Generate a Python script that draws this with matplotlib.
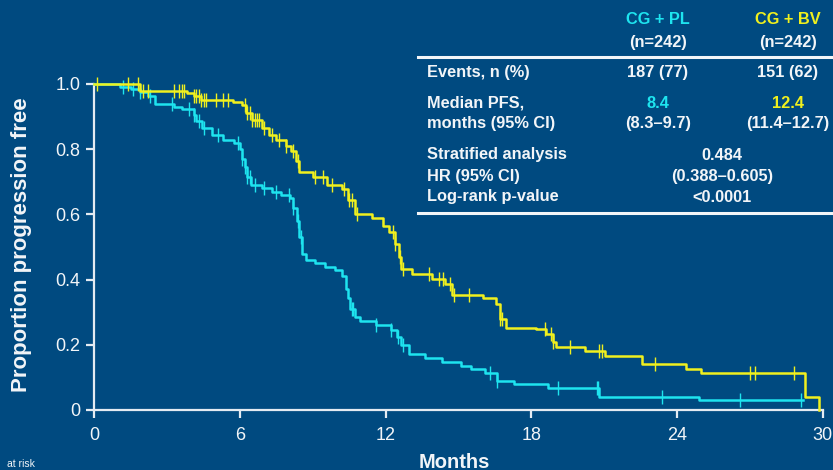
"""Kaplan-Meier style PFS chart, CG + PL vs CG + BV."""
import numpy as np
import matplotlib
matplotlib.use("Agg")
import matplotlib.pyplot as plt
from matplotlib.lines import Line2D

BG = "#004a80"
CYAN = "#1ee4ef"
YELLOW = "#f0f01e"
FG = "#f2f5f8"
AXIS = "#e4ebf2"

# step curves: survival becomes *_surv[i] at *_times[i]
pl_times = [0, 1.05, 1.5, 1.9, 2.2, 2.5, 3.3, 3.6, 4.1, 4.2, 4.45, 4.85, 5.3, 5.75,
            6.0, 6.1, 6.2, 6.3, 6.45, 6.9, 7.3, 7.7, 8.05, 8.2, 8.35, 8.45, 8.55,
            8.7, 9.1, 9.5, 9.9, 10.2, 10.35, 10.45, 10.55, 10.75, 10.95, 11.6,
            12.2, 12.45, 12.65, 12.95, 13.6, 14.3, 15.1, 15.5, 16.1, 16.6, 17.3,
            18.7, 20.8, 24.9, 29.2]
pl_surv = [1.0, 0.992, 0.985, 0.975, 0.962, 0.94, 0.93, 0.922, 0.905, 0.885, 0.865,
           0.845, 0.828, 0.82, 0.80, 0.77, 0.745, 0.715, 0.69, 0.68, 0.67, 0.66,
           0.65, 0.62, 0.58, 0.53, 0.48, 0.46, 0.452, 0.44, 0.43, 0.41, 0.37,
           0.345, 0.31, 0.285, 0.272, 0.262, 0.245, 0.225, 0.20, 0.172, 0.16,
           0.148, 0.135, 0.125, 0.115, 0.09, 0.08, 0.066, 0.04, 0.03, 0.03]
pl_cens = [1.2, 1.6, 1.9, 2.3, 3.2, 3.9, 4.1, 4.3, 4.5, 5.1, 5.9, 6.1, 6.2, 6.3,
           6.4, 6.6, 7.0, 7.5, 8.0, 8.2, 8.4, 8.5, 10.6, 10.65, 11.6, 12.2, 12.5,
           12.7, 16.3, 16.6, 19.1, 20.7, 20.75, 23.4, 26.6, 29.1]

bv_times = [0, 1.9, 3.8, 4.1, 4.4, 5.7, 6.1, 6.25, 6.5, 6.9, 7.2, 7.5, 7.9, 8.1,
            8.3, 8.45, 9.0, 9.6, 10.2, 10.45, 10.75, 11.45, 11.9, 12.15, 12.4,
            12.55, 12.65, 13.1, 13.9, 14.45, 14.75, 16.0, 16.55, 16.7, 16.95,
            18.2, 18.6, 18.9, 19.0, 20.2, 21.05, 22.55, 24.35, 25.0, 29.27, 29.85]
bv_surv = [1.0, 0.98, 0.972, 0.962, 0.952, 0.945, 0.935, 0.91, 0.89, 0.865, 0.845,
           0.828, 0.81, 0.795, 0.765, 0.73, 0.715, 0.69, 0.678, 0.645, 0.602, 0.59,
           0.565, 0.545, 0.51, 0.47, 0.432, 0.418, 0.402, 0.385, 0.352, 0.345,
           0.325, 0.28, 0.253, 0.247, 0.232, 0.21, 0.192, 0.182, 0.166, 0.141,
           0.125, 0.113, 0.04, 0.0]
bv_cens = [0.1, 1.4, 1.8, 2.0, 2.2, 3.3, 3.5, 3.6, 3.7, 4.1, 4.2, 4.3, 4.4, 4.5,
           4.6, 5.0, 5.3, 5.5, 6.2, 6.3, 6.4, 6.5, 6.6, 6.7, 6.8, 7.0, 7.3, 7.6,
           7.9, 8.2, 8.4, 9.1, 9.4, 9.8, 10.3, 10.5, 10.6, 10.8, 12.3, 12.4, 12.6,
           12.7, 13.8, 14.2, 14.35, 14.65, 14.8, 15.45, 16.7, 16.8, 18.56, 18.8,
           18.9, 19.6, 20.8, 20.9, 23.1, 27.0, 27.2, 28.8]

x_ticks = [0, 6, 12, 18, 24, 30]
y_ticks = [0, 0.2, 0.4, 0.6, 0.8, 1.0]
y_ticklabels = ["0", "0.2", "0.4", "0.6", "0.8", "1.0"]

arm_names = ["CG + PL", "CG + BV"]
arm_n = ["(n=242)", "(n=242)"]
events = ["187 (77)", "151 (62)"]
median_pfs = ["8.4", "12.4"]
median_ci = ["(8.3\u20139.7)", "(11.4\u201312.7)"]
row_labels = ["Events, n (%)", "Median PFS,", "months (95% CI)",
              "Stratified analysis", "HR (95% CI)", "Log-rank p-value"]
hr_values = ["0.484", "(0.388\u20130.605)", "<0.0001"]

plt.rcParams["font.family"] = ["Liberation Sans", "DejaVu Sans"]

W, H = 833, 470
fig = plt.figure(figsize=(W / 100, H / 100), dpi=100, facecolor=BG)


def fx(px):
    return px / W


def fy(py):
    return 1 - py / H


ax = fig.add_axes([fx(94.3), fy(410), fx(822.7) - fx(94.3), fy(84) - fy(410)])
ax.set_facecolor(BG)


def step_at(times, surv, t):
    idx = np.searchsorted(times, t, side="right") - 1
    return np.asarray(surv)[idx]


for times, surv, cens, col in [(pl_times, pl_surv, pl_cens, CYAN),
                               (bv_times, bv_surv, bv_cens, YELLOW)]:
    ax.step(times, surv, where="post", color=col, lw=1.8, clip_on=False, zorder=3)
    ax.plot(cens, step_at(times, surv, cens), ls="none", marker="|", ms=10,
            mew=1.0, color=col, clip_on=False, zorder=3)

ax.set_xlim(0, 30)
ax.set_ylim(0, 1.0)
ax.set_xticks(x_ticks)
ax.set_yticks(y_ticks)
ax.set_yticklabels(y_ticklabels)
for side in ["top", "right"]:
    ax.spines[side].set_visible(False)
for side in ["left", "bottom"]:
    ax.spines[side].set_color(AXIS)
    ax.spines[side].set_linewidth(1.6)
ax.tick_params(axis="both", colors=AXIS, width=1.6, length=6, labelsize=13,
               labelcolor=FG)
ax.tick_params(axis="x", pad=6)
ax.tick_params(axis="y", pad=4)

fig.text(fx(22), fy(245), "Proportion progression free", rotation=90,
         ha="center", va="center", fontsize=16, fontweight="bold", color=FG)
fig.text(fx(454), fy(462), "Months", ha="center", va="center", fontsize=14.5,
         fontweight="bold", color=FG)
fig.text(fx(7), fy(464), "at risk", ha="left", va="center", fontsize=7.5, color=FG)

# summary table
TS = 11.8
col_x = [658, 788]
mid_x = 722
label_x = 427
arm_cols = [CYAN, YELLOW]
for i in range(2):
    fig.text(fx(col_x[i]), fy(20), arm_names[i], ha="center", va="center",
             fontsize=TS, fontweight="bold", color=arm_cols[i])
    fig.text(fx(col_x[i]), fy(42), arm_n[i], ha="center", va="center",
             fontsize=TS, fontweight="bold", color=FG)
    fig.text(fx(col_x[i]), fy(73), events[i], ha="center", va="center",
             fontsize=TS, fontweight="bold", color=FG)
    fig.text(fx(col_x[i]), fy(103), median_pfs[i], ha="center", va="center",
             fontsize=TS, fontweight="bold", color=arm_cols[i])
    fig.text(fx(col_x[i]), fy(124), median_ci[i], ha="center", va="center",
             fontsize=TS, fontweight="bold", color=FG)

row_y = [73, 103, 124, 155, 176, 197]
for lab, yy in zip(row_labels, row_y):
    fig.text(fx(label_x), fy(yy), lab, ha="left", va="center", fontsize=TS,
             fontweight="bold", color=FG)
for val, yy in zip(hr_values, row_y[3:]):
    fig.text(fx(mid_x), fy(yy), val, ha="center", va="center", fontsize=TS,
             fontweight="bold", color=FG)

for yy in [56.5, 212.5]:
    fig.add_artist(Line2D([fx(418), 1.0], [fy(yy), fy(yy)], color=FG, lw=2.2))

fig.savefig("out.png", dpi=100, facecolor=BG)
